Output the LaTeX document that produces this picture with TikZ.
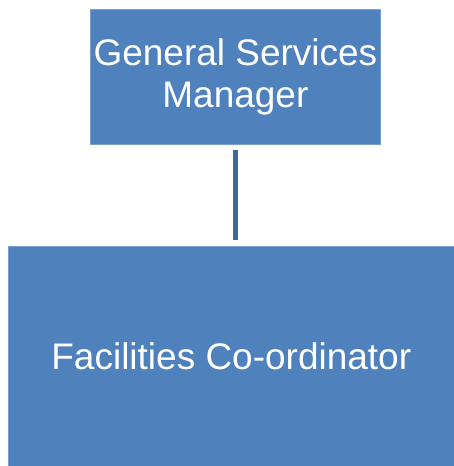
\documentclass[tikz,border=0pt]{standalone}
\usepackage{fontspec}
\setmainfont{Liberation Sans}
\usetikzlibrary{positioning}
\definecolor{boxblue}{RGB}{79,129,189}
\definecolor{boxedge}{RGB}{120,160,205}
\definecolor{linkblue}{RGB}{62,106,154}
\begin{document}
\begin{tikzpicture}[x=1pt, y=1pt,
    post/.style={fill=boxblue, draw=boxedge, line width=0.6pt, text=white, align=center, inner sep=0pt,
        font=\fontsize{37}{42}\selectfont},
    link/.style={draw=linkblue, line width=5.3pt}]
        \useasboundingbox (0, 0) rectangle (454, -466);

        \node[post, minimum width=290.7, minimum height=135] (gsm) at (235.4, -76.8) {General Services\\Manager};
        \node[post, minimum width=445.3, minimum height=220] (fc) at (231.3, -356) {Facilities Co-ordinator};

        \draw[link, shorten <=5.7pt, shorten >=5.3pt] (gsm.south) -- (gsm.south |- fc.north);
    \end{tikzpicture}
\end{document}
